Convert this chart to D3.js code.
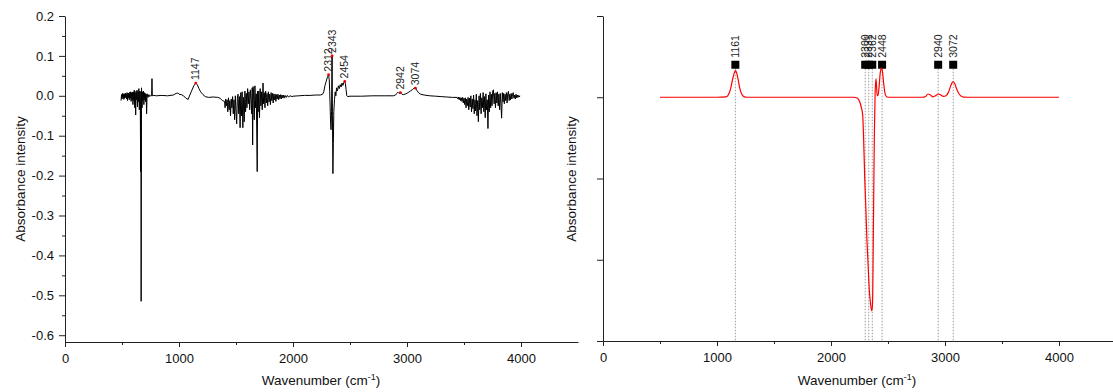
<!DOCTYPE html>
<html>
<head>
<meta charset="utf-8">
<script src="https://cdn.jsdelivr.net/npm/d3@7"></script>
<style>
  body { margin: 0; background: #fff; }
  svg { display: block; font-family: "Liberation Sans", Arial, sans-serif; }
  .axis .domain, .axis line { stroke: #222; stroke-width: 1; }
  .axis text { fill: #111; font-size: 13px; font-family: "Liberation Sans", Arial, sans-serif; }
</style>
</head>
<body>
<svg id="chart" width="1113" height="392"></svg>
<script>
// Measured absorbance spectrum: [wavenumber (cm-1), absorbance]
const measuredSpectrum = [
  [492,-0.012],[496,0.003],[500,-0.008],[504,0.006],[508,-0.004],[512,0.005],[516,-0.009],[520,0.004],
  [524,-0.006],[528,0.007],[532,-0.004],[536,0.004],[540,-0.008],[544,0.008],[548,-0.012],[552,0.006],
  [556,-0.005],[560,0.007],[564,-0.010],[568,0.009],[572,-0.006],[576,0.010],[580,-0.014],[584,0.008],
  [588,-0.010],[592,0.009],[596,-0.022],[600,0.010],[604,-0.012],[608,0.014],[612,-0.030],[616,0.008],
  [620,-0.048],[624,0.012],[628,-0.010],[632,0.014],[636,-0.028],[640,0.010],[644,-0.015],[648,0.018],
  [652,-0.035],[656,0.012],[660,-0.010],[664,-0.190],[666,0.010],[668,-0.515],[671,0.020],[676,-0.030],
  [680,0.010],[684,-0.012],[688,0.012],[692,-0.022],[696,0.008],[700,-0.010],[704,0.006],[708,-0.015],
  [712,0.004],[716,-0.045],[720,0.005],[728,-0.004],[736,0.003],[744,-0.002],[752,0.001],[760,0.000],[763,0.043],
  [766,0.000],[780,0.001],[800,0.000],[850,0.001],[900,0.000],[950,0.002],[975,0.006],[990,0.007],
  [1000,0.004],[1020,0.003],[1040,0.000],[1060,-0.006],[1080,-0.009],[1095,0.002],[1110,0.012],[1130,0.025],
  [1147,0.032],[1160,0.028],[1175,0.018],[1190,0.010],[1210,0.003],[1230,-0.002],[1260,-0.004],[1300,-0.003],
  [1340,-0.004],[1360,-0.006],[1380,-0.012],[1400,-0.014],
  [1404,-0.030],[1410,-0.008],[1416,-0.025],[1422,-0.010],[1428,-0.040],[1434,-0.005],[1440,-0.035],[1446,-0.012],
  [1452,-0.050],[1458,-0.008],[1464,-0.030],[1470,-0.002],[1476,-0.045],[1482,-0.010],[1488,-0.060],[1494,0.000],
  [1500,-0.038],[1506,-0.070],[1512,-0.006],[1518,0.004],[1524,-0.045],[1530,-0.002],[1536,-0.080],[1542,0.008],
  [1548,-0.050],[1554,0.010],[1560,-0.080],[1566,-0.004],[1572,-0.065],[1578,0.012],[1584,-0.040],[1590,0.006],
  [1596,-0.030],[1602,0.018],[1608,-0.020],[1614,0.010],[1620,-0.035],[1626,0.015],[1632,-0.010],[1638,-0.045],
  [1642,0.020],[1646,-0.123],[1650,0.023],[1654,0.008],[1660,-0.060],[1666,0.025],[1672,-0.030],[1678,0.005],
  [1686,-0.190],[1690,0.012],[1694,-0.040],[1700,0.012],[1706,-0.055],[1712,0.018],[1718,-0.025],[1724,0.010],
  [1730,-0.035],[1737,0.032],[1742,-0.020],[1748,0.008],[1754,-0.030],[1760,0.012],[1766,-0.018],[1772,0.006],
  [1778,-0.025],[1784,0.010],[1790,-0.015],[1796,0.004],[1802,-0.022],[1808,0.008],[1814,-0.012],[1820,0.006],
  [1826,-0.018],[1832,0.005],[1838,-0.010],[1844,0.004],[1850,-0.014],[1856,0.003],[1862,-0.008],[1868,0.004],
  [1874,-0.010],[1880,0.002],[1886,-0.007],[1892,0.003],[1898,-0.008],[1904,0.002],[1910,-0.005],[1916,0.002],
  [1922,-0.006],[1930,0.001],[1940,-0.004],[1950,0.001],[1960,-0.003],[1975,0.000],[1990,-0.002],[2000,-0.001],
  [2050,0.000],[2100,0.001],[2150,0.001],[2200,0.002],[2240,0.002],[2260,0.004],[2270,0.010],[2280,0.025],
  [2290,0.035],[2300,0.045],[2312,0.053],[2318,0.040],[2322,0.010],[2326,-0.030],[2330,-0.070],[2334,-0.085],
  [2338,-0.040],[2341,0.060],[2343,0.100],[2346,-0.050],[2350,-0.195],[2354,-0.120],[2358,-0.040],[2364,-0.010],
  [2370,0.010],[2376,0.000],[2382,0.020],[2390,0.012],[2398,0.025],[2406,0.018],[2414,0.028],[2422,0.022],
  [2430,0.032],[2438,0.026],[2446,0.034],[2454,0.036],[2460,0.030],[2466,0.015],[2472,0.000],[2480,-0.002],
  [2500,-0.001],[2600,-0.001],[2700,0.000],[2800,0.000],[2880,0.000],[2900,0.002],[2910,0.006],[2920,0.009],
  [2930,0.006],[2942,0.008],[2955,0.004],[2970,0.003],[2990,0.005],[3010,0.008],[3030,0.012],[3050,0.016],
  [3065,0.020],[3074,0.019],[3085,0.014],[3100,0.008],[3120,0.004],[3150,0.002],[3200,0.000],[3250,-0.001],
  [3300,-0.002],[3350,-0.003],[3400,-0.004],[3440,-0.004],
  [3446,-0.008],[3452,-0.003],[3458,-0.010],[3464,-0.004],[3470,-0.012],[3476,-0.005],[3482,-0.014],[3488,-0.004],
  [3494,-0.018],[3500,-0.006],[3506,-0.022],[3512,-0.005],[3518,-0.030],[3524,-0.008],[3530,-0.025],[3536,-0.004],
  [3542,-0.035],[3548,-0.006],[3554,-0.028],[3560,0.000],[3566,-0.040],[3572,-0.008],[3578,-0.032],[3584,0.002],
  [3590,-0.045],[3596,-0.010],[3602,-0.038],[3608,0.004],[3614,-0.050],[3620,-0.012],[3626,-0.065],[3632,0.000],
  [3638,-0.035],[3644,0.006],[3650,-0.045],[3656,-0.005],[3662,-0.030],[3668,0.008],[3674,-0.040],[3680,-0.002],
  [3686,-0.055],[3692,0.005],[3698,-0.035],[3704,-0.010],[3710,-0.082],[3716,0.002],[3722,-0.040],[3728,0.010],
  [3734,-0.030],[3740,0.004],[3746,-0.025],[3752,0.012],[3758,0.015],[3764,-0.020],[3770,0.006],[3776,-0.030],
  [3782,0.008],[3788,-0.018],[3794,0.010],[3800,-0.025],[3806,0.004],[3812,-0.035],[3818,0.006],[3824,-0.020],
  [3830,-0.056],[3836,0.008],[3842,-0.015],[3848,0.006],[3854,-0.020],[3860,0.004],[3866,-0.012],[3872,0.008],
  [3878,-0.018],[3884,0.006],[3890,0.011],[3896,-0.012],[3902,0.004],[3908,-0.010],[3914,0.006],[3920,-0.008],
  [3926,0.004],[3932,0.008],[3938,-0.006],[3944,0.002],[3950,-0.008],[3956,0.004],[3962,-0.005],[3968,0.002],
  [3974,-0.004],[3980,0.001],[3986,-0.003],[3990,0.000]
];
const measuredPeaks = [1147, 2312, 2343, 2454, 2942, 3074];

// Fitted spectrum (relative units): [wavenumber (cm-1), intensity]
const fittedSpectrum = [
  [500,0],[1000,0],[1080,0.005],[1100,0.03],[1120,0.11],[1140,0.24],[1152,0.30],[1161,0.327],
  [1170,0.31],[1185,0.22],[1200,0.11],[1220,0.03],[1240,0.005],[1260,0],[2200,0],[2230,-0.01],
  [2250,-0.05],[2265,-0.12],[2278,-0.22],[2288,-0.6],[2296,-1.0],[2304,-1.3],[2315,-1.75],[2325,-2.05],
  [2335,-2.35],[2345,-2.52],[2357,-2.63],[2364,-2.55],[2372,-1.6],[2380,-0.5],[2387,0.05],[2395,0.23],
  [2405,0.02],[2412,0.02],[2420,0.1],[2432,0.30],[2442,0.36],[2450,0.33],[2460,0.2],[2472,0.06],
  [2485,0.01],[2500,0],[2800,0],[2830,0.01],[2850,0.04],[2870,0.03],[2895,0.005],[2920,0.02],
  [2940,0.04],[2960,0.03],[2985,0.01],[3005,0.015],[3030,0.06],[3050,0.14],[3065,0.185],[3072,0.19],
  [3085,0.17],[3100,0.11],[3120,0.05],[3140,0.015],[3165,0.002],[3200,0],[4000,0]
];
const fittedPeaks = [1161, 2300, 2331, 2362, 2448, 2940, 3072];
const markerLevel = 0.4;

const xMajorTicks = [0, 1000, 2000, 3000, 4000];
const xMinorTicks = [500, 1500, 2500, 3500];
const leftYTicks = [-0.6, -0.5, -0.4, -0.3, -0.2, -0.1, 0.0, 0.1, 0.2];
const leftYMinorTicks = [-0.55, -0.45, -0.35, -0.25, -0.15, -0.05, 0.05, 0.15];
const rightYTicks = [-3, -2, -1, 0, 1];

const svg = d3.select("#chart");
svg.append("rect").attr("width", 1113).attr("height", 392).attr("fill", "#fff");

function xTitle(cx) {
  const t = svg.append("text")
    .attr("x", cx).attr("y", 385)
    .attr("text-anchor", "middle")
    .attr("font-size", 13.5).attr("fill", "#111");
  t.append("tspan").text("Wavenumber (cm");
  t.append("tspan").attr("dy", -5).attr("font-size", 9).text("-1");
  t.append("tspan").attr("dy", 5).text(")");
}
function yTitle(cx) {
  svg.append("text")
    .attr("transform", `translate(${cx},179) rotate(-90)`)
    .attr("text-anchor", "middle")
    .attr("font-size", 13.5).attr("fill", "#111")
    .text("Absorbance intensity");
}
function bottomAxis(x, y0) {
  svg.append("g").attr("class", "axis").attr("transform", `translate(0,${y0})`)
    .call(d3.axisBottom(x).tickValues(xMajorTicks).tickSize(5).tickSizeOuter(0)
      .tickPadding(7).tickFormat(d3.format("d")));
  svg.append("g").attr("class", "axis").attr("transform", `translate(0,${y0})`)
    .call(d3.axisBottom(x).tickValues(xMinorTicks).tickSize(3).tickSizeOuter(0).tickFormat(""))
    .select(".domain").remove();
}

// ---------- Left: measured spectrum ----------
const xL = d3.scaleLinear().domain([0, 4500]).range([65, 578]);
const yL = d3.scaleLinear().domain([-0.617, 0.2]).range([342, 16]);

svg.append("path")
  .datum(measuredSpectrum)
  .attr("fill", "none").attr("stroke", "#000").attr("stroke-width", 1)
  .attr("d", d3.line().x(d => xL(d[0])).y(d => yL(d[1])));

bottomAxis(xL, 342);
svg.append("g").attr("class", "axis").attr("transform", "translate(65,0)")
  .call(d3.axisLeft(yL).tickValues(leftYTicks).tickSize(6).tickSizeOuter(0)
    .tickPadding(5).tickFormat(d => d.toFixed(1)));
svg.append("g").attr("class", "axis").attr("transform", "translate(65,0)")
  .call(d3.axisLeft(yL).tickValues(leftYMinorTicks).tickSize(3).tickSizeOuter(0).tickFormat(""))
  .select(".domain").remove();

const leftPeaks = svg.append("g");
measuredPeaks.forEach(p => {
  const pt = measuredSpectrum.reduce((a, b) => Math.abs(b[0] - p) < Math.abs(a[0] - p) ? b : a);
  const px = xL(pt[0]), py = yL(pt[1]);
  leftPeaks.append("circle").attr("cx", px).attr("cy", py).attr("r", 1.4).attr("fill", "#e00");
  leftPeaks.append("text")
    .attr("transform", `translate(${px},${py - 3}) rotate(-90)`)
    .attr("dy", "0.35em").attr("font-size", 10.5).attr("fill", "#222")
    .text(p);
});
xTitle(321);
yTitle(25);

// ---------- Right: fitted spectrum ----------
const xR = d3.scaleLinear().domain([0, 4500]).range([603, 1116]);
const yR = d3.scaleLinear().domain([-3, 1]).range([341, 16]);

const rightPeaks = svg.append("g");
fittedPeaks.forEach(p => {
  const px = xR(p), py = yR(markerLevel);
  rightPeaks.append("line")
    .attr("x1", px).attr("x2", px).attr("y1", py + 4).attr("y2", yR(-3))
    .attr("stroke", "#9a9a9a").attr("stroke-width", 1).attr("stroke-dasharray", "1.5,1.5");
});

svg.append("path")
  .datum(fittedSpectrum)
  .attr("fill", "none").attr("stroke", "#f00").attr("stroke-width", 1.2)
  .attr("d", d3.line().curve(d3.curveMonotoneX).x(d => xR(d[0])).y(d => yR(d[1])));

fittedPeaks.forEach(p => {
  const px = xR(p), py = yR(markerLevel);
  rightPeaks.append("rect")
    .attr("x", px - 4).attr("y", py - 4).attr("width", 8).attr("height", 8).attr("fill", "#000");
  rightPeaks.append("text")
    .attr("transform", `translate(${px},${py - 7}) rotate(-90)`)
    .attr("dy", "0.35em").attr("font-size", 10.5).attr("fill", "#222")
    .text(p);
});

bottomAxis(xR, 341);
svg.append("g").attr("class", "axis").attr("transform", "translate(603,0)")
  .call(d3.axisLeft(yR).tickValues(rightYTicks).tickSize(6).tickSizeOuter(0).tickFormat(""));
xTitle(857);
yTitle(576);
</script>
</body>
</html>
